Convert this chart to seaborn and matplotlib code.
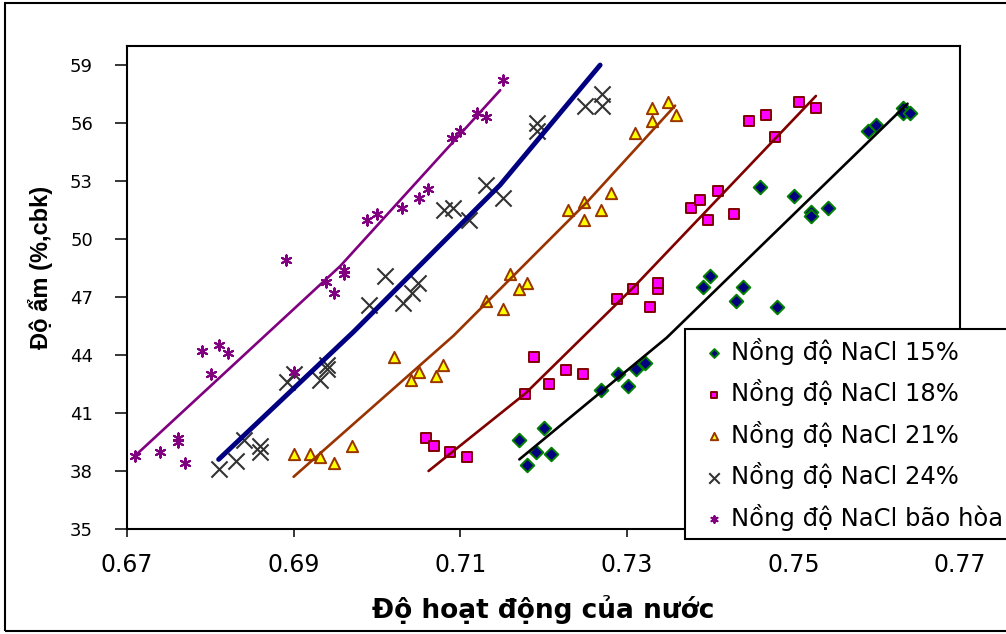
import matplotlib
matplotlib.use("Agg")
import numpy as np
import pandas as pd
import seaborn as sns
import matplotlib.pyplot as plt
from matplotlib.patches import Rectangle

# ---------------- data ----------------
labels = ["Nồng độ NaCl 15%", "Nồng độ NaCl 18%", "Nồng độ NaCl 21%",
          "Nồng độ NaCl 24%", "Nồng độ NaCl bão hòa"]

x15 = [0.7171, 0.7180, 0.7191, 0.7200, 0.7209, 0.7269, 0.7290, 0.7301, 0.7311, 0.7322,
       0.7391, 0.7400, 0.7431, 0.7440, 0.7460, 0.7480, 0.7501, 0.7521, 0.7521, 0.7541,
       0.7590, 0.7599, 0.7631, 0.7631, 0.7640]
y15 = [39.6, 38.3, 39.0, 40.2, 38.9, 42.2, 43.0, 42.4, 43.3, 43.6,
       47.5, 48.1, 46.8, 47.5, 52.7, 46.5, 52.2, 51.4, 51.2, 51.6,
       55.6, 55.9, 56.8, 56.5, 56.5]

x18 = [0.7059, 0.7068, 0.7088, 0.7108, 0.7178, 0.7189, 0.7207, 0.7227, 0.7247, 0.7288,
       0.7308, 0.7328, 0.7337, 0.7337, 0.7377, 0.7388, 0.7398, 0.7409, 0.7429, 0.7447,
       0.7467, 0.7478, 0.7507, 0.7527]
y18 = [39.7, 39.3, 39.0, 38.7, 42.0, 43.9, 42.5, 43.2, 43.0, 46.9,
       47.4, 46.5, 47.4, 47.7, 51.6, 52.0, 51.0, 52.5, 51.3, 56.1,
       56.4, 55.3, 57.1, 56.8]

x21 = [0.6900, 0.6920, 0.6932, 0.6949, 0.6970, 0.7021, 0.7041, 0.7051, 0.7071, 0.7079,
       0.7131, 0.7151, 0.7160, 0.7171, 0.7180, 0.7229, 0.7249, 0.7249, 0.7269, 0.7281,
       0.7310, 0.7330, 0.7330, 0.7350, 0.7359]
y21 = [38.9, 38.9, 38.7, 38.4, 39.3, 43.9, 42.7, 43.1, 42.9, 43.5,
       46.8, 46.4, 48.2, 47.4, 47.7, 51.5, 51.9, 51.0, 51.5, 52.4,
       55.5, 56.8, 56.1, 57.1, 56.4]

x24 = [0.6810, 0.6831, 0.6840, 0.6860, 0.6860, 0.6892, 0.6900, 0.6932, 0.6940, 0.6940,
       0.6990, 0.7010, 0.7031, 0.7042, 0.7049, 0.7080, 0.7091, 0.7110, 0.7131, 0.7151,
       0.7192, 0.7192, 0.7250, 0.7270, 0.7270]
y24 = [38.1, 38.5, 39.6, 39.3, 39.0, 42.6, 43.0, 42.7, 43.3, 43.5,
       46.6, 48.1, 46.7, 47.2, 47.7, 51.5, 51.6, 51.0, 52.8, 52.1,
       55.6, 56.0, 56.9, 56.9, 57.5]

xsat = [0.6710, 0.6740, 0.6761, 0.6761, 0.6770, 0.6790, 0.6801, 0.6810, 0.6821, 0.6891,
        0.6900, 0.6939, 0.6949, 0.6960, 0.6960, 0.6988, 0.7000, 0.7030, 0.7050, 0.7061,
        0.7090, 0.7100, 0.7120, 0.7131, 0.7151]
ysat = [38.8, 39.0, 39.7, 39.5, 38.4, 44.2, 43.0, 44.5, 44.1, 48.9,
        43.1, 47.8, 47.2, 48.4, 48.2, 51.0, 51.3, 51.6, 52.1, 52.6,
        55.2, 55.6, 56.5, 56.3, 58.2]

# trend lines
fx15 = [0.7171, 0.7348, 0.7637]
fy15 = [38.6, 44.9, 57.0]
fx18 = [0.7062, 0.7178, 0.7308, 0.7527]
fy18 = [38.0, 42.0, 47.5, 57.4]
fx21 = [0.6900, 0.7092, 0.7252, 0.7358]
fy21 = [37.7, 45.0, 51.9, 56.9]
fx24 = [0.6810, 0.6972, 0.7148, 0.7268]
fy24 = [38.6, 45.2, 52.8, 59.0]
fxsat = [0.6710, 0.6956, 0.7148]
fysat = [38.8, 48.6, 57.7]

xticks = [0.67, 0.69, 0.71, 0.73, 0.75, 0.77]
yticks = [35, 38, 41, 44, 47, 50, 53, 56, 59]
xlabel = "Độ hoạt động của nước"
ylabel = "Độ ẩm (%,cbk)"

# ---------------- styling ----------------
sns.set_theme(style="white")
plt.rcParams["font.family"] = ["DejaVu Sans"]
plt.rcParams["text.color"] = "black"
plt.rcParams["axes.labelcolor"] = "black"
plt.rcParams["xtick.color"] = "black"
plt.rcParams["ytick.color"] = "black"

W, H = 1006, 634
fig = plt.figure(figsize=(W / 100, H / 100), dpi=100)
L, R, T, B = 127, 960, 45.7, 529
ax = fig.add_axes([L / W, 1 - B / H, (R - L) / W, (B - T) / H])

series = [
    dict(x=x15, y=y15, fx=fx15, fy=fy15, marker="D", s=48, fc="#000080", ec="#008000",
         lc="black", lw=1.9),
    dict(x=x18, y=y18, fx=fx18, fy=fy18, marker="s", s=52, fc="#FF00FF", ec="#800000",
         lc="#800000", lw=1.9),
    dict(x=x21, y=y21, fx=fx21, fy=fy21, marker="^", s=66, fc="#FFFF00", ec="#993300",
         lc="#993300", lw=1.9),
    dict(x=x24, y=y24, fx=fx24, fy=fy24, marker="x", s=135, fc="#333333", ec="#333333",
         lc="#000080", lw=3.5),
    dict(x=xsat, y=ysat, fx=fxsat, fy=fysat, marker=(6, 2, 0), s=55, fc="#800080",
         ec="#800080", lc="#800080", lw=1.9),
]

for lab, sd in zip(labels, series):
    df = pd.DataFrame({"x": sd["x"], "y": sd["y"]})
    if sd["marker"] == "x" or isinstance(sd["marker"], tuple):
        sns.scatterplot(data=df, x="x", y="y", marker=sd["marker"], s=sd["s"],
                        color=sd["fc"], linewidth=1.5, ax=ax, label=lab, zorder=2)
    else:
        sns.scatterplot(data=df, x="x", y="y", marker=sd["marker"], s=sd["s"],
                        color=sd["fc"], edgecolor=sd["ec"], linewidth=1.4, ax=ax,
                        label=lab, zorder=2)

for sd in series:
    dfl = pd.DataFrame({"x": sd["fx"], "y": sd["fy"]})
    sns.lineplot(data=dfl, x="x", y="y", sort=False, color=sd["lc"], linewidth=sd["lw"],
                 ax=ax, legend=False, zorder=3)

ax.set_xlim(0.67, 0.77)
ax.set_ylim(35, 60)
ax.set_xticks(xticks)
ax.set_xticklabels([f"{v:.2f}" for v in xticks])
ax.set_yticks(yticks)
ax.set_yticklabels([str(v) for v in yticks])
ax.tick_params(axis="x", direction="out", length=6, width=1.1, colors="black",
               labelsize=17, pad=11, bottom=True)
ax.tick_params(axis="y", direction="out", length=8.5, width=1.1, colors="black",
               labelsize=13, pad=16, left=True)
for sp in ax.spines.values():
    sp.set_visible(True)
    sp.set_color("black")
    sp.set_linewidth(1.5)
ax.set_xlabel("")
ax.set_ylabel("")

fig.text(543.5 / W, 1 - 610 / H, xlabel, ha="center", va="center",
         fontsize=19, fontweight="bold", color="black")
fig.text(41 / W, 1 - 267 / H, ylabel, ha="center", va="center", rotation=90,
         fontsize=17, fontweight="bold", color="black",
         family=["Liberation Sans", "DejaVu Sans"])

# outer chart border
fig.patches.append(Rectangle((5 / W, 3 / H), 1.2, (631 - 3) / H, transform=fig.transFigure,
                             fill=False, edgecolor="black", linewidth=1.5, zorder=1))

handles, labs = ax.get_legend_handles_labels()
if ax.legend_ is not None:
    ax.legend_.remove()
leg = fig.legend(handles, labs, loc="upper left", bbox_to_anchor=(685 / W, 1 - 329 / H),
                 bbox_transform=fig.transFigure, frameon=True, fancybox=False,
                 edgecolor="black", framealpha=1, fontsize=17.5, markerscale=0.65,
                 handlelength=1.7, handletextpad=-0.15, borderpad=0.35, labelspacing=0.6,
                 borderaxespad=0)
leg.get_frame().set_linewidth(1.5)
leg.set_zorder(10)

fig.savefig("out.png", dpi=100)
